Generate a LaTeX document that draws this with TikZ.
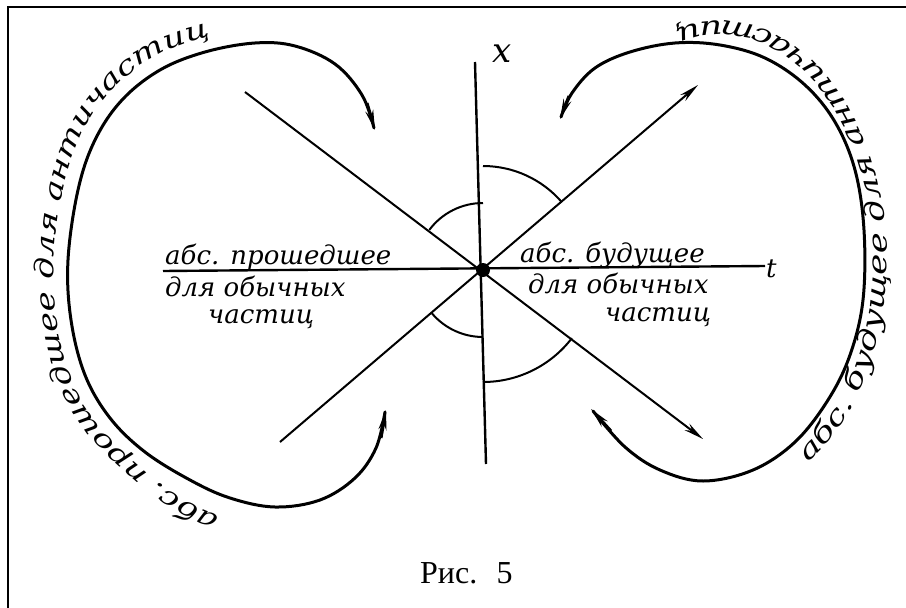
\documentclass[tikz,border=0pt]{standalone}
\usepackage{fontspec}
\newfontfamily\hw{DejaVu Serif}
\newfontfamily\hwwide{DejaVu Serif}[FakeStretch=1.33]
\newfontfamily\hwwider{DejaVu Serif}[FakeStretch=1.38]
\newfontfamily\capfont{Liberation Serif}
\newcommand\hwfont{\hw\itshape\fontsize{26}{26}\selectfont}
\newcommand\hwarc{\hwwide\itshape\fontsize{26}{26}\selectfont}
\newcommand\hwarcr{\hwwider\itshape\fontsize{26}{26}\selectfont}
\usetikzlibrary{arrows.meta,decorations.text}

\begin{document}
\begin{tikzpicture}[x=1pt, y=-1pt,
  lab/.style={font=\hwfont, inner sep=0pt, anchor=base west},
  axisline/.style={line width=2.4pt},
  ray/.style={line width=2pt, -{Stealth[length=20pt,width=8pt]}},
  wedge/.style={line width=2pt},
  swing/.style={line width=3pt, line cap=round},
  swingtip/.style={line width=3pt, -{Stealth[length=20pt,width=8pt]}},
  dot/.style={circle, fill, inner sep=0pt, minimum size=14pt}]

\useasboundingbox (0,0) rectangle (906,608);
\draw[line width=2.7pt] (906,7) -- (8,7) -- (8,608);

% axes and light cone
\node[dot] (o) at (483,270) {};
\coordinate (xtop) at (475,62);
\coordinate (xbot) at (486,464);
\coordinate (tl) at (163,271);
\coordinate (tr) at (765,266);
\coordinate (ul) at (245,92);
\coordinate (lr) at (703,439);
\coordinate (ll) at (280,442);
\coordinate (ur) at (698,85);

\draw[axisline] (xtop) -- (xbot);
\draw[axisline] (tl) -- (tr);
\draw[ray] (ul) -- (lr);
\draw[ray] (ll) -- (ur);

\draw[wedge] (o.center) ++(-90:104) arc[start angle=-90, end angle=-40.7, radius=104];
\draw[wedge] (o.center) ++(-143.2:67) arc[start angle=-143.2, end angle=-90, radius=67];
\draw[wedge] (o.center) ++(139.7:67) arc[start angle=139.7, end angle=90, radius=67];
\draw[wedge] (o.center) ++(37.5:112) arc[start angle=37.5, end angle=90, radius=112];

% loops
\draw[swing] plot[smooth, tension=0.6] coordinates {(374,128) (362,95) (335,64)
  (295,46) (255,43) (205,52) (160,70) (122,100) (95,140) (78,190) (68,260)
  (71,320) (85,375) (110,418) (145,452) (190,480) (230,498) (275,507)
  (320,500) (355,478) (376,448) (385,412)};
\draw[swing] plot[smooth, tension=0.6] coordinates {(561,117) (572,93) (595,68)
  (630,52) (675,43) (720,45) (765,58) (805,85) (835,122) (855,170) (864,230)
  (863,300) (850,355) (828,400) (795,442) (753,470) (703,481) (660,470)
  (625,447) (593,411)};
\draw[swingtip] (367,103) -- (375,130);
\draw[swingtip] (381,438) -- (386,410);
\draw[swingtip] (569,96) -- (560,119);
\draw[swingtip] (611,431) -- (591,409);

\path[decorate, decoration={text along path, text align=center,
  text={|\hwarc|абс. прошедшее для античастиц}}]
  (214,514) .. controls (184,502) and (160,485) .. (136,463)
  .. controls (108,441) and (85,412) .. (72,380)
  .. controls (57,343) and (52,299) .. (54,259)
  .. controls (56,217) and (64,172) .. (82,134)
  .. controls (97,103) and (123,75) .. (153,58)
  .. controls (169,48) and (187,43) .. (205,38);
\path[decorate, decoration={text along path, text align=center,
  text={|\hwarcr|абс. будущее для античастиц}}]
  (720,260) ++(64:167 and 239) arc[start angle=64, end angle=-112,
  x radius=167, y radius=239];

% labels
\node[lab] (pastA) at (165,264) {абс. прошедшее};
\node[lab] (pastB) at (165,296) {для обычных};
\node[lab] (pastC) at (208,323) {частиц};
\node[lab] (futA) at (520,262) {абс. будущее};
\node[lab] (futB) at (528,293) {для обычных};
\node[lab] (futC) at (605,321) {частиц};
\node[lab, font=\hw\itshape\fontsize{34}{34}\selectfont] (xlab) at (492,62) {x};
\node[lab] (tlab) at (766,277) {t};

\node[font=\capfont\fontsize{32}{32}\selectfont, inner sep=0pt, anchor=base west]
  (cap) at (420,583) {Рис.\hspace{0.6em}5};

\end{tikzpicture}
\end{document}
